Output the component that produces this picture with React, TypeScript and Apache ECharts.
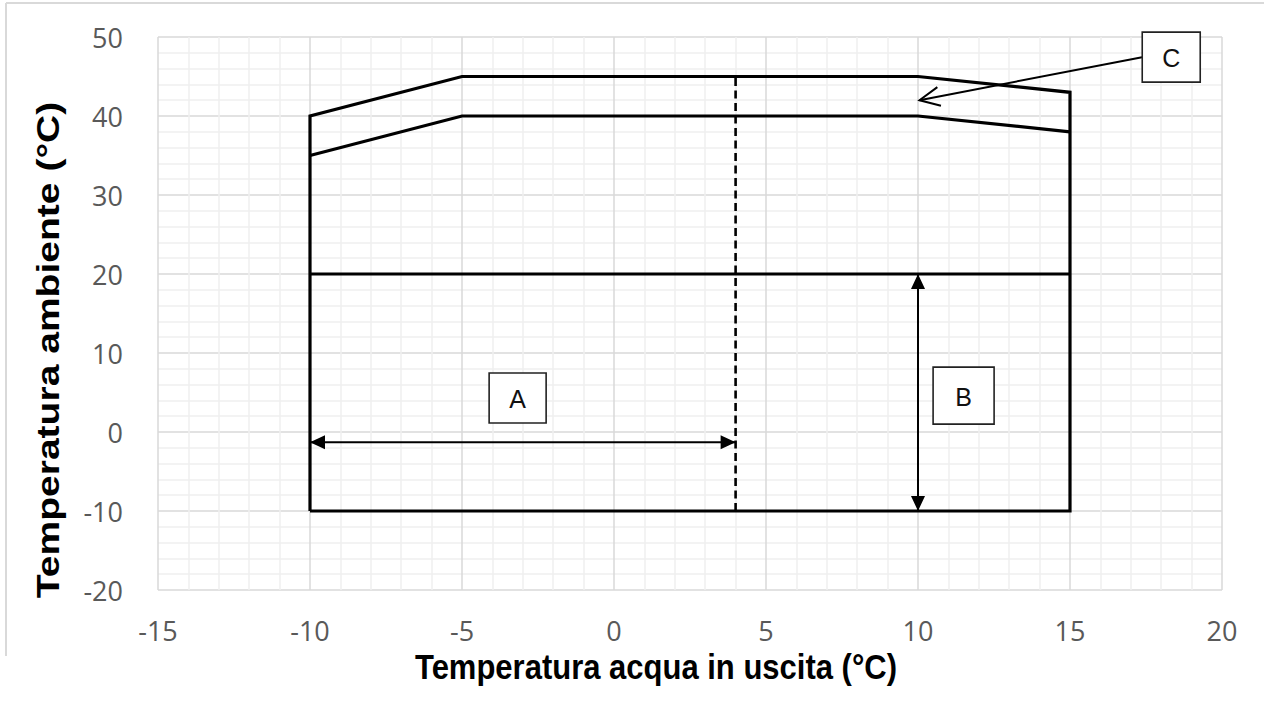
import React, { useEffect, useRef } from "react";
import * as echarts from "echarts";

// Tick settings
const xTicks = { min: -15, max: 20, interval: 5 };
const yTicks = { min: -20, max: 50, interval: 10 };

// Operating envelope (outer limit)
const envelope: number[][] = [
  [-10, -10], [-10, 40], [-5, 45], [10, 45], [15, 43], [15, -10], [-10, -10],
];
// Inner limit line
const innerLimit: number[][] = [[-10, 35], [-5, 40], [10, 40], [15, 38]];
// Horizontal line at 20 °C
const midLine: number[][] = [[-10, 20], [15, 20]];
// Dashed vertical at 4 °C
const dashedLine: number[][] = [[4, -10], [4, 45]];

// Annotation arrows: [x1, y1, x2, y2, headAtStart, headAtEnd, openHead]
const arrows: number[][] = [
  [-10, -1.3, 4, -1.3, 1, 1, 0],
  [10, 20, 10, -10, 1, 1, 0],
  [17.37, 47.45, 10.05, 42.0, 0, 1, 1],
];
// Label boxes: [x, y] centre
const boxLabels = ["A", "B", "C"];
const boxCenters: number[][] = [[-3.17, 4.3], [11.5, 4.6], [18.33, 47.45]];
const boxSizes: number[][] = [[57, 50], [61, 57], [58, 50]];

const xTitle = "Temperatura acqua in uscita (°C)";
const yTitle = "Temperatura ambiente (°C)";

function headPoints(tip: number[], from: number[], len: number, half: number) {
  const dx = tip[0] - from[0];
  const dy = tip[1] - from[1];
  const d = Math.sqrt(dx * dx + dy * dy) || 1;
  const ux = dx / d, uy = dy / d;
  const bx = tip[0] - ux * len, by = tip[1] - uy * len;
  return [
    [tip[0], tip[1]],
    [bx - uy * half, by + ux * half],
    [bx + uy * half, by - ux * half],
  ];
}

export default function App() {
  const ref = useRef<HTMLDivElement>(null);
  useEffect(() => {
    if (!ref.current) return;
    const chart = echarts.init(ref.current, null, { renderer: "svg" });
    const lineBase = {
      type: "line" as const,
      symbol: "none",
      silent: true,
      animation: false,
      clip: false,
    };
    chart.setOption({
      animation: false,
      backgroundColor: "#ffffff",
      grid: { left: 158, right: 42, top: 37, bottom: 128, containLabel: false },
      xAxis: {
        type: "value",
        min: xTicks.min,
        max: xTicks.max,
        interval: xTicks.interval,
        axisLine: { show: false },
        axisTick: { show: false },
        axisLabel: {
          color: "#595959",
          fontSize: 27,
          fontFamily: "Open Sans",
          margin: 27,
        },
        splitLine: { show: true, lineStyle: { color: "#d9d9d9", width: 1.5 } },
        minorTick: { show: false, splitNumber: 5 },
        minorSplitLine: { show: true, lineStyle: { color: "#efefef", width: 1.5 } },
      },
      yAxis: {
        type: "value",
        min: yTicks.min,
        max: yTicks.max,
        interval: yTicks.interval,
        axisLine: { show: false },
        axisTick: { show: false },
        axisLabel: {
          color: "#595959",
          fontSize: 27,
          fontFamily: "Open Sans",
          margin: 35,
        },
        splitLine: { show: true, lineStyle: { color: "#d9d9d9", width: 1.5 } },
        minorTick: { show: false, splitNumber: 5 },
        minorSplitLine: { show: true, lineStyle: { color: "#efefef", width: 1.5 } },
      },
      graphic: [
        {
          type: "line",
          shape: { x1: 6, y1: 3, x2: 1264, y2: 3 },
          style: { stroke: "#d9d9d9", lineWidth: 2 },
        },
        {
          type: "line",
          shape: { x1: 6, y1: 3, x2: 6, y2: 656 },
          style: { stroke: "#d9d9d9", lineWidth: 2 },
        },
        {
          type: "text",
          x: 656,
          y: 667,
          scaleY: 1.12,
          style: {
            text: xTitle,
            font: "bold 31px 'Liberation Sans', Arial, sans-serif",
            fill: "#000",
            align: "center",
            verticalAlign: "middle",
          },
        },
        {
          type: "text",
          x: 48,
          y: 350,
          rotation: Math.PI / 2,
          scaleX: 1.22,
          style: {
            text: yTitle,
            font: "bold 32px 'Liberation Sans', Arial, sans-serif",
            fill: "#000",
            align: "center",
            verticalAlign: "middle",
          },
        },
      ],
      series: [
        {
          ...lineBase,
          data: envelope,
          lineStyle: { color: "#000", width: 3.2, join: "miter" },
        },
        {
          ...lineBase,
          data: innerLimit,
          lineStyle: { color: "#000", width: 3.2, join: "miter" },
        },
        {
          ...lineBase,
          data: midLine,
          lineStyle: { color: "#000", width: 3.2 },
        },
        {
          ...lineBase,
          data: dashedLine,
          lineStyle: { color: "#000", width: 2.6, type: [8, 4.5] },
        },
        {
          type: "custom",
          silent: true,
          clip: false,
          data: arrows,
          renderItem: (params: any, api: any) => {
            const p1 = api.coord([api.value(0), api.value(1)]);
            const p2 = api.coord([api.value(2), api.value(3)]);
            const startHead = api.value(4) === 1;
            const endHead = api.value(5) === 1;
            const open = api.value(6) === 1;
            const children: any[] = [];
            children.push({
              type: "line",
              shape: { x1: p1[0], y1: p1[1], x2: p2[0], y2: p2[1] },
              style: { stroke: "#000", lineWidth: 2 },
            });
            if (open) {
              const h = headPoints(p2, p1, 20, 9.5);
              children.push({
                type: "polyline",
                shape: { points: [h[1], h[0], h[2]] },
                style: { stroke: "#000", lineWidth: 2, fill: "none" },
              });
            } else {
              if (startHead) {
                children.push({
                  type: "polygon",
                  shape: { points: headPoints(p1, p2, 15, 7) },
                  style: { fill: "#000" },
                });
              }
              if (endHead) {
                children.push({
                  type: "polygon",
                  shape: { points: headPoints(p2, p1, 15, 7) },
                  style: { fill: "#000" },
                });
              }
            }
            return { type: "group", children };
          },
        },
        {
          type: "custom",
          silent: true,
          clip: false,
          data: boxCenters,
          renderItem: (params: any, api: any) => {
            const c = api.coord([api.value(0), api.value(1)]);
            const size = boxSizes[params.dataIndex];
            return {
              type: "group",
              children: [
                {
                  type: "rect",
                  shape: {
                    x: c[0] - size[0] / 2,
                    y: c[1] - size[1] / 2,
                    width: size[0],
                    height: size[1],
                  },
                  style: { fill: "#fff", stroke: "#222", lineWidth: 1.6 },
                },
                {
                  type: "text",
                  x: c[0],
                  y: c[1] + 1,
                  style: {
                    text: boxLabels[params.dataIndex],
                    font: "25px 'Liberation Sans', Arial, sans-serif",
                    fill: "#111",
                    align: "center",
                    verticalAlign: "middle",
                  },
                },
              ],
            };
          },
        },
      ],
    });
    return () => chart.dispose();
  }, []);
  return (
    <div
      ref={ref}
      style={{ position: "fixed", left: 0, top: 0, width: 1264, height: 718 }}
    />
  );
}
